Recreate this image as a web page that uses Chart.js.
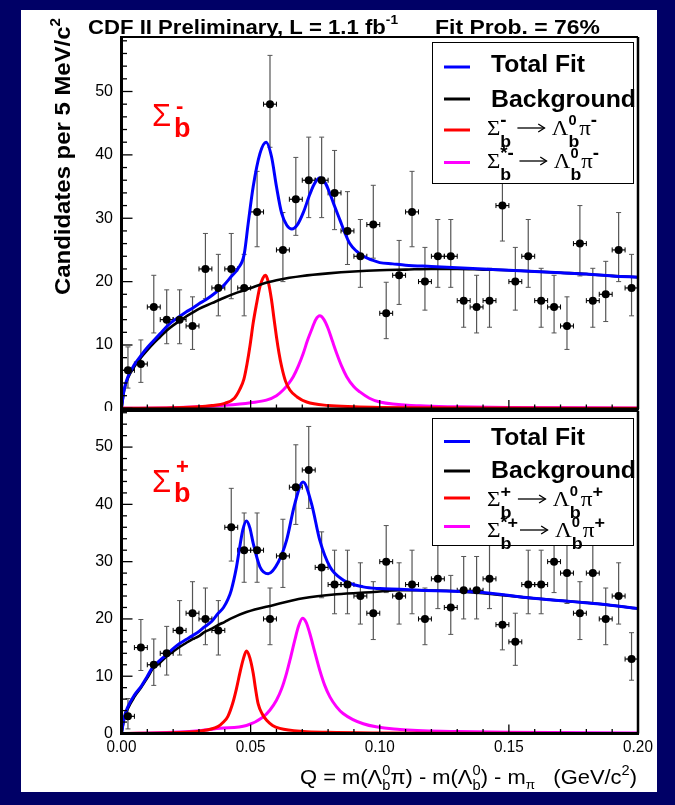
<!DOCTYPE html>
<html><head><meta charset="utf-8">
<script src="https://cdn.jsdelivr.net/npm/chart.js@4/dist/chart.umd.min.js"></script>
<style>
html,body{margin:0;padding:0;background:#000066;}
#wrap{position:relative;width:675px;height:805px;overflow:hidden;}
canvas{position:absolute;left:0;top:0;}
</style></head><body>
<div id="wrap"><canvas id="c1" width="675" height="805"></canvas><canvas id="c2" width="675" height="805"></canvas></div>
<script>
// ---------- DATA ----------
const binCenters = [0.0025,0.0075,0.0125,0.0175,0.0225,0.0275,0.0325,0.0375,0.0425,0.0475,0.0525,0.0575,0.0625,0.0675,0.0725,0.0775,0.0825,0.0875,0.0925,0.0975,0.1025,0.1075,0.1125,0.1175,0.1225,0.1275,0.1325,0.1375,0.1425,0.1475,0.1525,0.1575,0.1625,0.1675,0.1725,0.1775,0.1825,0.1875,0.1925,0.1975];
const binHalfWidth = 0.0025;

const countsMinus = [6,7,16,14,14,13,22,19,22,19,31,48,25,33,36,36,34,28,24,29,15,21,31,20,24,24,17,16,17,32,20,24,17,16,13,26,17,18,25,19];
const errUpMinus = [3.7,3.8,5.0,4.7,4.7,4.6,5.6,5.3,5.6,5.3,6.4,7.7,5.9,6.6,6.8,6.8,6.7,6.2,5.8,6.2,4.9,5.5,6.4,5.4,5.8,5.8,5.1,5.0,5.1,6.5,5.4,5.8,5.1,5.0,4.6,6.0,5.1,5.2,5.9,5.3];
const errDnMinus = [2.8,2.9,4.1,3.8,3.8,3.7,4.7,4.4,4.7,4.4,5.5,6.8,5.0,5.7,5.9,5.9,5.8,5.3,4.9,5.3,4.0,4.6,5.5,4.5,4.9,4.9,4.2,4.1,4.2,5.6,4.5,4.9,4.2,4.1,3.7,5.1,4.2,4.3,5.0,4.4];

const countsPlus = [3,15,12,14,18,21,20,18,36,32,32,20,31,43,46,29,26,26,24,21,30,24,26,20,27,22,25,25,27,19,16,26,26,30,28,21,28,20,24,13];
const errUpPlus = [3.1,4.9,4.5,4.7,5.2,5.5,5.4,5.2,6.8,6.5,6.5,5.4,6.4,7.4,7.6,6.2,6.0,6.0,5.8,5.5,6.3,5.8,6.0,5.4,6.1,5.6,5.9,5.9,6.1,5.3,5.0,6.0,6.0,6.3,6.2,5.5,6.2,5.4,5.8,4.6];
const errDnPlus = [2.2,4.0,3.6,3.8,4.3,4.6,4.5,4.3,5.9,5.6,5.6,4.5,5.5,6.5,6.7,5.3,5.1,5.1,4.9,4.6,5.4,4.9,5.1,4.5,5.2,4.7,5.0,5.0,5.2,4.4,4.1,5.1,5.1,5.4,5.3,4.6,5.3,4.5,4.9,3.7];

// fit curves, Sigma_b^- panel
const totMX = [0,0.001,0.0025,0.005,0.0075,0.01,0.0125,0.015,0.0175,0.02,0.0225,0.025,0.0275,0.03,0.0325,0.035,0.0375,0.04,0.0425,0.045,0.0475,0.049,0.051,0.0536,0.056,0.0581,0.06,0.062,0.064,0.066,0.068,0.0705,0.0725,0.0745,0.0768,0.079,0.0807,0.0826,0.0846,0.0865,0.0884,0.091,0.0936,0.097,0.1,0.105,0.11,0.12,0.13,0.14,0.15,0.16,0.17,0.18,0.19,0.2];
const totMY = [0,2.9,5.0,6.9,8.3,9.6,10.7,11.8,12.9,13.8,14.5,15.2,15.8,16.5,17.1,17.8,18.6,19.6,20.8,22.0,24.3,29.0,35.0,40.2,42.0,39.7,35.0,30.8,28.9,28.3,28.9,31.0,33.3,35.3,36.4,35.5,33.9,31.8,29.7,27.7,26.0,24.8,24.0,23.4,23.0,22.8,22.6,22.4,22.2,22.0,21.8,21.6,21.4,21.2,20.9,20.7];
const bkgMX = [0,0.001,0.0025,0.005,0.0075,0.01,0.0125,0.015,0.0175,0.02,0.0225,0.025,0.0275,0.03,0.035,0.04,0.045,0.05,0.055,0.06,0.065,0.07,0.08,0.09,0.1,0.11,0.12,0.13,0.14,0.15,0.16,0.17,0.18,0.19,0.2];
const bkgMY = [0,2.8,4.8,6.6,8.0,9.2,10.3,11.3,12.3,13.1,13.8,14.5,15.1,15.7,16.6,17.5,18.3,19.0,19.7,20.2,20.6,20.9,21.3,21.6,21.8,21.9,22.0,22.0,21.9,21.8,21.6,21.4,21.2,20.9,20.7];
const sigMX = [0,0.02,0.03,0.035,0.04,0.0437,0.0458,0.0474,0.0486,0.0498,0.051,0.0522,0.0536,0.0548,0.0558,0.0568,0.0581,0.059,0.06,0.061,0.062,0.0635,0.0652,0.068,0.0717,0.08,0.09,0.1,0.12,0.15,0.2];
const sigMY = [0,0.1,0.25,0.45,0.8,1.6,3.0,4.6,7.0,10.0,13.5,16.3,19.2,20.6,21.0,20.0,17.1,14.3,11.3,8.7,6.6,4.3,2.9,1.8,1.0,0.45,0.25,0.15,0.08,0.04,0.0];
const starMX = [0,0.02,0.03,0.04,0.0458,0.05,0.0561,0.06,0.0626,0.0645,0.0665,0.0685,0.0704,0.072,0.0736,0.0752,0.0768,0.0784,0.08,0.0816,0.0833,0.0852,0.0872,0.09,0.0923,0.096,0.1,0.1156,0.13,0.15,0.2];
const starMY = [0,0.1,0.25,0.5,0.7,0.9,1.3,2.0,2.9,3.8,5.0,6.7,8.7,10.7,12.4,14.0,14.6,14.0,12.6,10.7,8.7,6.7,5.0,3.4,2.6,1.6,1.0,0.4,0.25,0.15,0.05];

// fit curves, Sigma_b^+ panel
const totPX = [0,0.0011,0.0024,0.005,0.0074,0.01,0.0121,0.015,0.0173,0.02,0.0225,0.025,0.0272,0.03,0.0321,0.035,0.0373,0.0395,0.0412,0.0425,0.0445,0.0458,0.047,0.0484,0.0497,0.051,0.0536,0.0568,0.0607,0.0639,0.0671,0.0703,0.0736,0.0768,0.0807,0.0858,0.0936,0.1,0.1078,0.1156,0.1375,0.1594,0.1853,0.2];
const totPY = [0,2.9,4.6,6.7,8.1,10.0,11.6,12.8,13.7,14.8,15.7,16.4,17.0,17.8,18.6,19.6,20.9,22.0,23.4,25.0,29.0,32.6,35.6,37.1,35.9,33.2,29.1,27.9,29.9,33.7,40.1,43.9,40.1,33.7,29.1,26.8,25.6,25.3,25.2,25.0,24.7,23.6,22.6,21.8];
const bkgPX = [0,0.0011,0.0024,0.005,0.0074,0.01,0.0121,0.015,0.0173,0.02,0.0225,0.025,0.0272,0.03,0.0321,0.035,0.0373,0.04,0.0425,0.0484,0.0587,0.0703,0.0833,0.0975,0.1078,0.1156,0.1375,0.1594,0.1853,0.2];
const bkgPY = [0,2.7,4.3,6.4,7.9,9.7,11.3,12.4,13.4,14.3,15.1,15.8,16.4,17.0,17.7,18.3,18.9,19.5,20.1,21.2,22.4,23.6,24.3,24.7,25.0,25.0,24.6,23.6,22.6,21.8];
const sigPX = [0,0.02,0.03,0.0373,0.0395,0.0412,0.0432,0.0445,0.0458,0.0471,0.0484,0.0497,0.051,0.0519,0.0529,0.0545,0.0562,0.0585,0.0613,0.0703,0.08,0.1,0.15,0.2];
const sigPY = [0,0.15,0.4,1.2,2.0,3.0,5.5,7.8,10.5,12.9,14.4,13.2,10.5,7.8,5.2,3.4,2.3,1.4,0.9,0.35,0.2,0.1,0.04,0];
const starPX = [0,0.02,0.03,0.0381,0.0484,0.0549,0.0575,0.06,0.062,0.0639,0.0655,0.0671,0.0686,0.0701,0.0715,0.0729,0.0748,0.0768,0.0787,0.0807,0.0832,0.0858,0.0936,0.1078,0.13,0.15,0.2];
const starPY = [0,0.2,0.5,0.9,1.4,2.9,4.1,5.8,7.8,10.5,13.3,16.3,18.8,20.1,19.4,17.5,14.3,11.0,8.4,6.4,4.7,3.5,1.7,0.7,0.35,0.2,0.1];

// ticks
const xTickValues = [0, 0.05, 0.10, 0.15, 0.20];
const xTickLabels = ['0.00','0.05','0.10','0.15','0.20'];
const yTickValues = [0,10,20,30,40,50];
const yTickLabels = ['0','10','20','30','40','50'];

// ---------- helpers ----------
const SANS = '"Liberation Sans", Arial, Helvetica, sans-serif';
const SERIF = '"Liberation Serif", "Times New Roman", serif';
const B = n => `bold ${n}px ${SANS}`;
const N = n => `${n}px ${SANS}`;
const S = n => `${n}px ${SERIF}`;
const pts = (xs, ys) => xs.map((x, i) => ({x, y: ys[i]}));

function partW(ctx, p){ if (p.arrow) return p.arrow; ctx.font=p.f; return ctx.measureText(p.t).width; }
function richWidth(ctx, parts){ let w=0; for(const p of parts){ if(!p.stay) w+=partW(ctx,p) + (p.gap||0);} return w; }
function rich(ctx, x, y, parts, color, targetW){
  ctx.save();
  const w = richWidth(ctx, parts);
  const sx = targetW ? targetW / w : 1;
  ctx.translate(x, y); ctx.scale(sx, 1);
  ctx.fillStyle = color; ctx.strokeStyle = color; ctx.textAlign='left'; ctx.textBaseline='alphabetic';
  let cx = 0;
  for (const p of parts){
    if (p.arrow){
      const ay = p.dy||-7;
      ctx.lineWidth = 1.3;
      ctx.beginPath(); ctx.moveTo(cx, ay); ctx.lineTo(cx+p.arrow, ay); ctx.stroke();
      ctx.beginPath(); ctx.moveTo(cx+p.arrow-6, ay-4); ctx.lineTo(cx+p.arrow, ay); ctx.lineTo(cx+p.arrow-6, ay+4); ctx.stroke();
    } else {
      ctx.font=p.f; ctx.fillText(p.t, cx + (p.dx||0), p.dy||0);
    }
    if(!p.stay) cx += partW(ctx,p) + (p.gap||0);
  }
  ctx.restore();
}
function line(ctx, x1,y1,x2,y2,c,w){ ctx.beginPath(); ctx.moveTo(x1,y1); ctx.lineTo(x2,y2); ctx.strokeStyle=c; ctx.lineWidth=w; ctx.stroke(); }

// ---------- panel config ----------
const panels = [
  { id:'c1', sign:'-', top:37, bottom:409, ymin:-0.1, ymax:58.6,
    counts:countsMinus, up:errUpMinus, dn:errDnMinus,
    tot:pts(totMX,totMY), bkg:pts(bkgMX,bkgMY), sig:pts(sigMX,sigMY), star:pts(starMX,starMY),
    legend:{box:[432,42,201,141], lineY:[67,99,130,162.5], textY:[72,107,135,168], fw:[110,112]},
    label:{sy:126, supY:113, by:137} },
  { id:'c2', sign:'+', top:411, bottom:733.5, ymin:0, ymax:56.3,
    counts:countsPlus, up:errUpPlus, dn:errDnPlus,
    tot:pts(totPX,totPY), bkg:pts(bkgPX,bkgPY), sig:pts(sigPX,sigPY), star:pts(starPX,starPY),
    legend:{box:[432,418,201,127], lineY:[441.5,471,498,526.5], textY:[445,478,506,537], fw:[116,118]},
    label:{sy:492, supY:474, by:502} }
];

const LEFT = 121.5, RIGHT = 638;

function makeChart(P, idx){
  const errPlugin = {
    id:'errbars',
    beforeDatasetsDraw(chart){
      const {ctx, scales:{x,y}} = chart;
      ctx.save();
      for (let i=0;i<binCenters.length;i++){
        const c = binCenters[i], v = P.counts[i];
        const px = x.getPixelForValue(c), py = y.getPixelForValue(v);
        const yt = y.getPixelForValue(v + P.up[i]), yb = y.getPixelForValue(v - P.dn[i]);
        line(ctx, px, yt, px, yb, '#555', 1.2);
        line(ctx, px-2.5, yt, px+2.5, yt, '#555', 1);
        line(ctx, px-2.5, yb, px+2.5, yb, '#555', 1);
        const xl = x.getPixelForValue(c-binHalfWidth), xr = x.getPixelForValue(c+binHalfWidth);
        line(ctx, xl, py, xr, py, '#000', 1.2);
        line(ctx, xl, py-2.5, xl, py+2.5, '#000', 1);
        line(ctx, xr, py-2.5, xr, py+2.5, '#000', 1);
      }
      ctx.restore();
    }
  };
  const bgPlugin = {
    id:'bg',
    beforeDraw(chart){
      const ctx = chart.ctx;
      ctx.save();
      if (idx===0){
        ctx.fillStyle='#000066'; ctx.fillRect(0,0,675,805);
        ctx.fillStyle='#ffffff'; ctx.fillRect(21,10,636,782);
      } else {
        ctx.fillStyle='#ffffff'; ctx.fillRect(21,411,636,381);
      }
      ctx.restore();
    },
    afterDraw(chart){
      const {ctx, chartArea:a, scales:{x,y}} = chart;
      ctx.save();
      // frame
      line(ctx, a.left, a.top, a.right, a.top, '#000', 2);
      line(ctx, a.right, a.top, a.right, a.bottom, '#000', 2.5);
      line(ctx, a.left, a.top-1, a.left, a.bottom+1.5, '#000', 3);
      line(ctx, a.left-1.5, a.bottom, a.right+1, a.bottom, '#000', 3);
      // y ticks
      for (let v=0; v<=P.ymax; v+=2){
        const py = y.getPixelForValue(v);
        const len = (v%10===0) ? 11 : 5.5;
        line(ctx, a.left, py, a.left+len, py, '#000', 1.3);
      }
      // x ticks
      for (let k=0; k<=20; k++){
        const v = k/100;
        const px = x.getPixelForValue(v);
        const len = (k%5===0) ? 9 : 4.5;
        line(ctx, px, a.bottom, px, a.bottom-len, '#000', 1.3);
      }
      // y tick labels
      ctx.font = N(16); ctx.fillStyle='#000'; ctx.textAlign='right'; ctx.textBaseline='middle';
      yTickValues.forEach((v,i)=>{ if (v<=P.ymax) ctx.fillText(yTickLabels[i], 113, y.getPixelForValue(v)); });
      // x tick labels (bottom panel only)
      if (idx===1){
        ctx.textAlign='left'; ctx.textBaseline='alphabetic';
        xTickValues.forEach((v,i)=>{
          const px = x.getPixelForValue(v);
          ctx.font = N(17);
          const w = ctx.measureText(xTickLabels[i]).width*0.9;
          rich(ctx, px - w/2, 752, [{t:xTickLabels[i], f:N(17)}], '#000', w);
        });
        // x title
        rich(ctx, 300, 784, [
          {t:'Q = m(', f:N(21)}, {t:'Λ', f:N(21)},
          {t:'0', f:N(14), dy:-9, stay:true}, {t:'b', f:N(14), dy:6},
          {t:'π) - m(', f:N(21)}, {t:'Λ', f:N(21)},
          {t:'0', f:N(14), dy:-9, stay:true}, {t:'b', f:N(14), dy:6},
          {t:') - m', f:N(21)}, {t:'π', f:N(13), dy:5},
          {t:'   (GeV/c', f:N(21)}, {t:'2', f:N(14), dy:-9}, {t:')', f:N(21)}
        ], '#000', 337);
      } else {
        // title
        rich(ctx, 88, 34, [{t:'CDF II Preliminary, L = 1.1 fb', f:B(21)}, {t:'-1', f:B(13), dy:-10}], '#000', 310);
        rich(ctx, 435, 34, [{t:'Fit Prob. = 76%', f:B(21)}], '#000', 165);
        // y title
        ctx.save();
        ctx.translate(70, 295); ctx.rotate(-Math.PI/2);
        rich(ctx, 0, 0, [{t:'Candidates per 5 MeV/c', f:B(22)}, {t:'2', f:B(14), dy:-10}], '#000', 277);
        ctx.restore();
      }
      // legend
      const L = P.legend;
      ctx.fillStyle='#fff'; ctx.fillRect(L.box[0], L.box[1], L.box[2], L.box[3]);
      ctx.strokeStyle='#000'; ctx.lineWidth=1; ctx.strokeRect(L.box[0]+0.5, L.box[1]+0.5, L.box[2], L.box[3]);
      const cols = ['#0000ff','#000000','#ff0000','#ff00ff'];
      cols.forEach((c,i)=> line(ctx, 444, L.lineY[i], 470, L.lineY[i], c, 3));
      rich(ctx, 491, L.textY[0], [{t:'Total Fit', f:B(24)}], '#000', 94);
      rich(ctx, 491, L.textY[1], [{t:'Background', f:B(24)}], '#000', 145);
      const sg = P.sign;
      const supF = sg==='+' ? B(17) : B(18);
      rich(ctx, 487, L.textY[2], [
        {t:'Σ', f:S(22)}, {t:sg, f:supF, dy:-9, stay:true}, {t:'b', f:B(17), dy:12, gap:6},
        {arrow:26, dy:-7, gap:7}, {t:'Λ', f:S(22)}, {t:'0', f:B(14), dy:-10, stay:true}, {t:'b', f:B(17), dy:12},
        {t:'π', f:S(22)}, {t:sg, f:supF, dy:-9}
      ], '#000', L.fw[0]);
      rich(ctx, 487, L.textY[3], [
        {t:'Σ', f:S(22)}, {t:'*'+sg, f:supF, dy:-9, stay:true}, {t:'b', f:B(17), dy:12, gap:8},
        {arrow:26, dy:-7, gap:7}, {t:'Λ', f:S(22)}, {t:'0', f:B(14), dy:-10, stay:true}, {t:'b', f:B(17), dy:12},
        {t:'π', f:S(22)}, {t:sg, f:supF, dy:-9}
      ], '#000', L.fw[1]);
      // Sigma_b label
      const lb = P.label;
      ctx.fillStyle='#ff0000'; ctx.textAlign='left'; ctx.textBaseline='alphabetic';
      ctx.font = N(31); ctx.fillText('Σ', 152, lb.sy);
      ctx.font = B(27); ctx.fillText('b', 174, lb.by);
      ctx.font = B(22); ctx.fillText(sg, 176, lb.supY);
      ctx.restore();
    }
  };

  const lineDs = (data, color, order, w) => ({
    type:'scatter', data, showLine:true, pointRadius:0, borderColor:color, backgroundColor:color,
    borderWidth:w, cubicInterpolationMode:'monotone', order, clip:6
  });

  return new Chart(document.getElementById(P.id), {
    type:'scatter',
    data:{ datasets:[
      { type:'scatter', data:pts(binCenters, P.counts), pointRadius:4, pointBackgroundColor:'#000', pointBorderColor:'#000', pointBorderWidth:0, order:0 },
      lineDs(P.tot, '#0000ff', 1, 3),
      lineDs(P.bkg, '#000000', 2, 2.6),
      lineDs(P.sig, '#ff0000', 3, 3),
      lineDs(P.star, '#ff00ff', 4, 3)
    ]},
    options:{
      responsive:false, animation:false, devicePixelRatio:1, events:[],
      layout:{ padding:{ left:LEFT, right:675-RIGHT, top:P.top, bottom:805-P.bottom } },
      scales:{
        x:{ type:'linear', min:0, max:0.2, display:false },
        y:{ type:'linear', min:P.ymin, max:P.ymax, display:false }
      },
      plugins:{ legend:{display:false}, tooltip:{enabled:false} }
    },
    plugins:[bgPlugin, errPlugin]
  });
}
panels.forEach((P,i)=>makeChart(P,i));
</script>
</body></html>
